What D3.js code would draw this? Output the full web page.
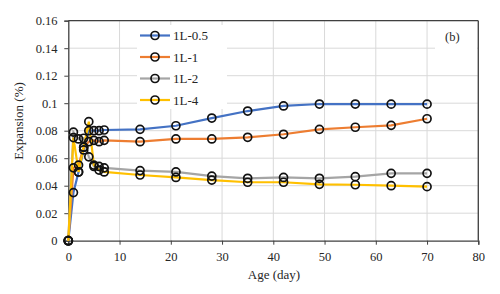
<!DOCTYPE html>
<html><head><meta charset="utf-8">
<script src="https://cdn.jsdelivr.net/npm/d3@7"></script>
<style>body{margin:0;background:#fff}svg{display:block}text{font-family:"Liberation Serif","Times New Roman",serif;fill:#262626}</style>
</head><body>
<svg id="c" width="500" height="294"></svg>
<script>
const days = [0,1,2,3,4,5,6,7,14,21,28,35,42,49,56,63,70];
const s05 = [0,0.035,0.050,0.066,0.080,0.080,0.080,0.0805,0.081,0.0836,0.0892,0.0943,0.098,0.0994,0.0994,0.0993,0.0993];
const s1  = [0,0.053,0.055,0.068,0.072,0.073,0.072,0.073,0.072,0.074,0.074,0.0752,0.0774,0.081,0.0825,0.0839,0.0887];
const s2  = [0,0.079,0.074,0.0745,0.061,0.054,0.054,0.053,0.051,0.050,0.047,0.0454,0.046,0.0454,0.0466,0.049,0.049];
const s4  = [0,0.075,0.050,0.068,0.0866,0.055,0.0514,0.050,0.0478,0.046,0.0441,0.0425,0.0425,0.041,0.0407,0.040,0.0393];
const seriesNames = ["1L-0.5","1L-1","1L-2","1L-4"];
const seriesColors = ["#4472C4","#ED7D31","#A5A5A5","#FFC000"];
const yTicks = [0,0.02,0.04,0.06,0.08,0.1,0.12,0.14,0.16];
const xTicks = [0,10,20,30,40,50,60,70,80];
const allSeries = [s05,s1,s2,s4];

const svg = d3.select("#c");
const L=68.3,R=478.3,T=20.7,B=240.7;
const x = d3.scaleLinear().domain([0,80]).range([L,R]);
const y = d3.scaleLinear().domain([0,0.16]).range([B,T]);

// gridlines
svg.append("g").selectAll("line.h").data(yTicks.slice(1)).join("line")
  .attr("x1",L).attr("x2",R).attr("y1",d=>y(d)).attr("y2",d=>y(d))
  .attr("stroke","#d9d9d9").attr("stroke-width",1);
svg.append("g").selectAll("line.v").data(xTicks.slice(1)).join("line")
  .attr("y1",T).attr("y2",B).attr("x1",d=>x(d)).attr("x2",d=>x(d))
  .attr("stroke","#d9d9d9").attr("stroke-width",1);

// legend & label backgrounds covering grid
svg.append("rect").attr("x",137).attr("y",25).attr("width",90).attr("height",84).attr("fill","#fff");
svg.append("rect").attr("x",435).attr("y",22).attr("width",42).attr("height",32).attr("fill","#fff");

// axes
const xAxis = d3.axisBottom(x).tickValues(xTicks).tickSize(4).tickFormat(d3.format("d"));
const yAxis = d3.axisLeft(y).tickValues(yTicks).tickSize(4).tickFormat(d=>d===0?"0":String(+d.toFixed(2)));
const gx = svg.append("g").attr("transform",`translate(0,${B})`).call(xAxis);
const gy = svg.append("g").attr("transform",`translate(${L},0)`).call(yAxis);
[gx,gy].forEach(g=>{
  g.select(".domain").attr("stroke","#404040").attr("stroke-width",1.3);
  g.selectAll(".tick line").attr("stroke","#404040");
  g.selectAll(".tick text").attr("font-size","12.5px").attr("font-family","Liberation Serif").attr("fill","#262626");
});
gx.selectAll(".tick text").attr("dy","1.05em");
gy.selectAll(".tick text").attr("dx","-0.3em");
// top/right border
svg.append("line").attr("x1",L).attr("x2",R).attr("y1",T).attr("y2",T).attr("stroke","#404040").attr("stroke-width",1.3);
svg.append("line").attr("x1",R).attr("x2",R).attr("y1",T).attr("y2",B).attr("stroke","#404040").attr("stroke-width",1.3);

// series
const line = d3.line().x((d,i)=>x(days[i])).y(d=>y(d));
allSeries.forEach((s,k)=>{
  svg.append("path").datum(s).attr("d",line).attr("fill","none")
    .attr("stroke",seriesColors[k]).attr("stroke-width",2.2);
});
allSeries.forEach((s,k)=>{
  svg.append("g").selectAll("circle").data(s).join("circle")
    .attr("cx",(d,i)=>x(days[i])).attr("cy",d=>y(d)).attr("r",4)
    .attr("fill","none").attr("stroke","#111").attr("stroke-width",1.7);
});

// legend
const lg = svg.append("g");
seriesNames.forEach((n,k)=>{
  const yy = 35.5 + k*21.5;
  lg.append("line").attr("x1",140).attr("x2",170).attr("y1",yy).attr("y2",yy)
    .attr("stroke",seriesColors[k]).attr("stroke-width",2.2);
  lg.append("circle").attr("cx",155).attr("cy",yy).attr("r",4).attr("fill","none")
    .attr("stroke","#111").attr("stroke-width",1.7);
  lg.append("text").attr("x",173).attr("y",yy+4.5).attr("font-size","13px").text(n);
});
svg.append("text").attr("x",445).attr("y",41).attr("font-size","12.5px").text("(b)");

// axis titles
svg.append("text").attr("x",274).attr("y",278.5).attr("text-anchor","middle").attr("font-size","13px").text("Age (day)");
svg.append("text").attr("transform","translate(23,121) rotate(-90)").attr("text-anchor","middle").attr("font-size","13px").text("Expansion (%)");
</script>
</body></html>
